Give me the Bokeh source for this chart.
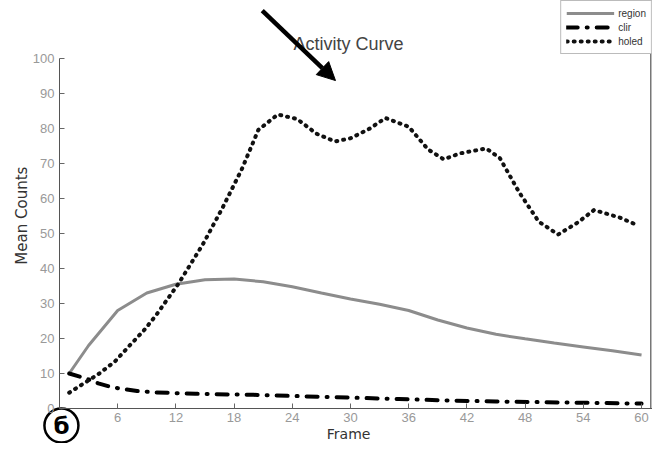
from math import pi
from bokeh.plotting import figure
from bokeh.models import (Range1d, FixedTicker, Arrow, NormalHead, Label, Legend, LegendItem)
from bokeh.embed import file_html
from bokeh.resources import INLINE

# ---- data ----
region_frames = [1, 3, 6, 9, 12, 15, 18, 21, 24, 27, 30, 33, 36, 39, 42, 45, 48, 51, 54, 57, 60]
region_counts = [10, 18, 28, 33, 35.5, 36.8, 37, 36.2, 34.8, 33, 31.3, 29.8, 28, 25.3, 23, 21.2, 19.9, 18.7, 17.6, 16.5, 15.3]

clir_frames = [1, 2, 3, 4, 5, 6, 8, 10, 14, 20, 25, 30, 35, 40, 45, 50, 55, 60]
clir_counts = [10, 9.2, 8.3, 7.2, 6.4, 5.8, 5.0, 4.6, 4.2, 3.9, 3.5, 3.1, 2.7, 2.3, 2.0, 1.8, 1.6, 1.4]

holed_frames = [1, 4.0, 5.7, 7.3, 8.7, 10.0, 12.3, 14.8, 16.8, 18.8, 20.5, 22.5, 24.5, 26.5, 28.4, 30,
                32, 33.6, 36, 38, 39.6, 41.3, 44, 45.4, 47.4, 49.4, 51.4, 53.4, 55.1, 57.8, 59.7]
holed_counts = [4.5, 9.8, 13.4, 18.2, 22.3, 26.8, 35.8, 47, 57.3, 68.4, 79.6, 84, 82.7, 78.5, 76.3, 77.2,
                80, 83, 80.5, 74, 71.2, 72.9, 74.3, 71.5, 61.7, 53.4, 49.7, 53.1, 56.7, 54.5, 52.2]

x_ticks = [6, 12, 18, 24, 30, 36, 42, 48, 54, 60]
y_ticks = [0, 10, 20, 30, 40, 50, 60, 70, 80, 90, 100]
series_names = ["region", "clir", "holed"]
title_text = "Activity Curve"
x_label = "Frame"
y_label = "Mean Counts"
panel_mark = "б"

p = figure(width=652, height=443, output_backend="svg", toolbar_location=None,
           x_range=Range1d(-6.08, 61.13), y_range=Range1d(-10, 116.57),
           min_border=0)
p.outline_line_color = None
p.xgrid.visible = False
p.ygrid.visible = False

for ax in (p.xaxis[0], p.yaxis[0]):
    ax.fixed_location = 0
    ax.axis_line_color = "#555555"
    ax.major_tick_line_color = "#666666"
    ax.major_tick_in = 5
    ax.major_tick_out = 0
    ax.minor_tick_line_color = None
    ax.major_label_text_color = "#999999"
    ax.major_label_text_font = "Liberation Sans"
    ax.major_label_text_font_size = "13px"

p.xaxis.ticker = FixedTicker(ticks=x_ticks)
p.yaxis.ticker = FixedTicker(ticks=y_ticks)
p.yaxis.bounds = (0, 100)
p.xaxis.bounds = (0, 61.13)
p.xaxis.major_label_standoff = 5
p.yaxis.major_label_standoff = 5

r1 = p.line(region_frames, region_counts, line_color="#8c8c8c", line_width=3)
r2 = p.line(clir_frames, clir_counts, line_color="black", line_width=4,
            line_dash="11 9 1 9", line_cap="round")
r3 = p.line(holed_frames, holed_counts, line_color="#111111", line_width=4,
            line_dash="1 6", line_cap="round")

# right border of the plot box
p.segment(x0=[60.95], y0=[0], x1=[60.95], y1=[116.57], line_color="#777777", line_width=1.5)

legend = Legend(items=[LegendItem(label=series_names[0], renderers=[r1]),
                       LegendItem(label=series_names[1], renderers=[r2]),
                       LegendItem(label=series_names[2], renderers=[r3])],
                location="top_right", margin=0, padding=5, spacing=0,
                glyph_width=48, glyph_height=14, label_height=14,
                label_text_font_size="10px", label_text_font="Liberation Sans",
                label_text_color="#333333", label_standoff=4,
                border_line_color="#777777", border_line_width=1.5,
                background_fill_color="white")
p.add_layout(legend)

p.add_layout(Label(x=29.8, y=104, text=title_text, text_font="Liberation Sans",
                   text_font_size="18px", text_color="#444444", text_align="center",
                   text_baseline="middle"))

p.add_layout(Arrow(x_start=20.9, y_start=113.7, x_end=28.45, y_end=93.7,
                   line_color="black", line_width=4.5,
                   end=NormalHead(size=18, fill_color="black", line_color="black", line_width=1)))

p.add_layout(Label(x=29.8, y=-7.4, text=x_label, text_font="DejaVu Sans", text_font_size="14px",
                   text_color="#333333", text_align="center", text_baseline="middle"))

p.add_layout(Label(x=-3.9, y=55.1, text=y_label, text_font="DejaVu Sans", text_font_size="15px",
                   text_color="#333333", text_align="center", text_baseline="middle", angle=pi / 2))

# circled panel mark
p.scatter(x=[0.2], y=[-4.86], marker="circle", size=34, fill_color="white",
          line_color="black", line_width=2.5)
p.add_layout(Label(x=0.2, y=-4.86, text=panel_mark, text_font="DejaVu Sans", text_font_size="23px",
                   text_font_style="bold", text_color="black", text_align="center",
                   text_baseline="middle"))

open("out.html", "w").write(file_html(p, INLINE))
